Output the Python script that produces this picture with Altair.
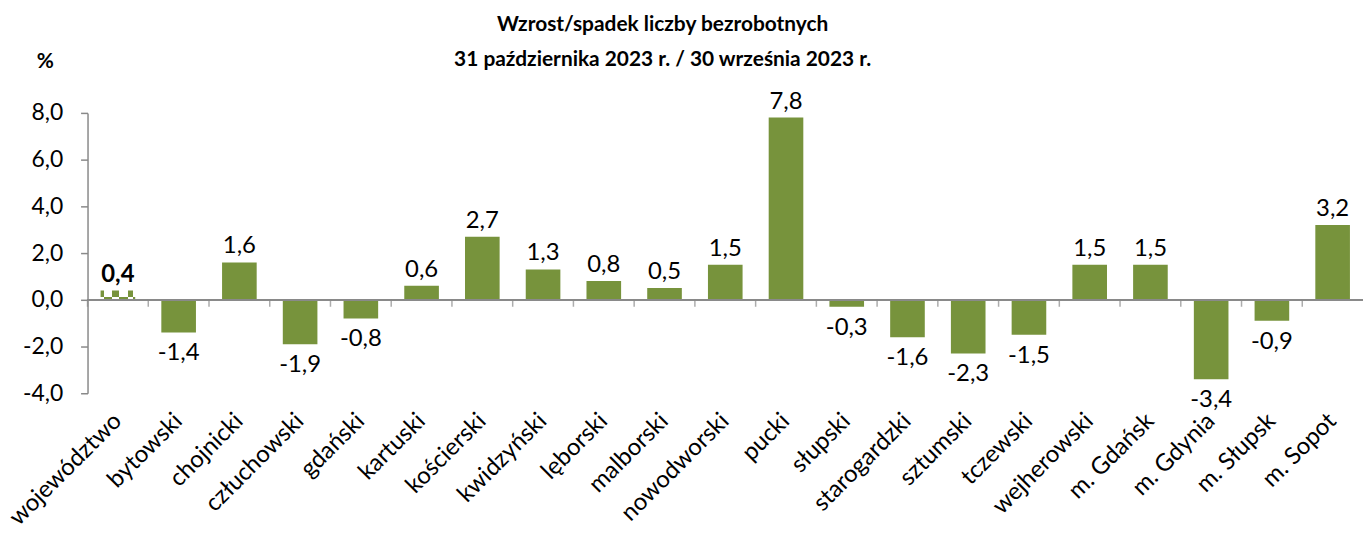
import altair as alt
import pandas as pd

categories = ["województwo", "bytowski", "chojnicki", "człuchowski", "gdański",
              "kartuski", "kościerski", "kwidzyński", "lęborski", "malborski",
              "nowodworski", "pucki", "słupski", "starogardzki", "sztumski",
              "tczewski", "wejherowski", "m. Gdańsk", "m. Gdynia", "m. Słupsk", "m. Sopot"]
values = [0.4, -1.4, 1.6, -1.9, -0.8, 0.6, 2.7, 1.3, 0.8, 0.5,
          1.5, 7.8, -0.3, -1.6, -2.3, -1.5, 1.5, 1.5, -3.4, -0.9, 3.2]
y_ticks = [-4, -2, 0, 2, 4, 6, 8]
title_lines = ["Wzrost/spadek liczby bezrobotnych",
               "31 października 2023 r. / 30 września 2023 r."]

GREEN = "#77933C"
GRAY = "#898989"
FONT = "Lato"

df = pd.DataFrame({"kat": categories, "val": values})
df["lab"] = [f"{v:.1f}".replace(".", ",") for v in values]
df["total"] = [c == "województwo" for c in categories]

v0 = values[0]
split = v0 * 0.3
chk = pd.DataFrame({"kat": [categories[0], categories[0]],
                    "lo": [0, split], "hi": [split, v0],
                    "row": ["bottom", "top"]})

xscale = alt.Scale(domain=categories, paddingInner=0.43, paddingOuter=0.215)
yscale = alt.Scale(domain=[-4, 8], nice=False)

x_enc = alt.X("kat:N", scale=xscale, sort=categories, title=None,
              axis=alt.Axis(labelAngle=-45, labelAlign="right", labelBaseline="middle",
                            labelFontSize=24, labelFont=FONT, labelColor="black",
                            ticks=False, domain=False, labelPadding=24, labelLimit=300))
y_enc = alt.Y("val:Q", scale=yscale, title="%",
              axis=alt.Axis(values=y_ticks, grid=False, domainColor=GRAY, domainWidth=1.5,
                            tickColor=GRAY, tickWidth=1.5, tickSize=7, labelPadding=18,
                            labelFontSize=23, labelFont=FONT, labelColor="black",
                            labelExpr="replace(replace(format(datum.value, '.1f'), '.', ','), '\u2212', '-')",
                            titleAngle=0, titleX=-43, titleY=-52, titleAlign="center",
                            titleBaseline="middle", titleFontSize=21, titleFont=FONT,
                            titleFontWeight="bold", titleColor="black"))

base = alt.Chart(df)

bars = base.mark_bar(color=GREEN).encode(x=x_enc, y=y_enc, y2=alt.datum(0)).transform_filter(
    "!datum.total")


def stripes(green_ranges):
    stops = []
    pos = 0.0
    for a, b in green_ranges:
        if a > pos:
            stops += [alt.GradientStop(color="white", offset=pos), alt.GradientStop(color="white", offset=a)]
        stops += [alt.GradientStop(color=GREEN, offset=a), alt.GradientStop(color=GREEN, offset=b)]
        pos = b
    if pos < 1:
        stops += [alt.GradientStop(color="white", offset=pos), alt.GradientStop(color="white", offset=1)]
    return alt.Gradient(gradient="linear", x1=0, x2=1, y1=0, y2=0, stops=stops)


top_fill = stripes([(0.0, 0.09), (0.33, 0.53), (0.78, 0.95)])
bot_fill = stripes([(0.09, 0.33), (0.53, 0.78), (0.95, 1.0)])

chk_base = alt.Chart(chk)
chk_top = chk_base.mark_bar(fill=top_fill).encode(
    x=alt.X("kat:N", scale=xscale, sort=categories),
    y=alt.Y("lo:Q", scale=yscale), y2="hi:Q").transform_filter("datum.row == 'top'")
chk_bot = chk_base.mark_bar(fill=bot_fill).encode(
    x=alt.X("kat:N", scale=xscale, sort=categories),
    y=alt.Y("lo:Q", scale=yscale), y2="hi:Q").transform_filter("datum.row == 'bottom'")

zero = alt.Chart(df).mark_rule(color=GRAY, strokeWidth=1.5).encode(y=alt.datum(0))

ticks = base.mark_tick(orient="vertical", color=GRAY, thickness=1.5, size=7,
                       yOffset=3.5, xOffset=-30.55).encode(
    x=alt.X("kat:N", scale=xscale, sort=categories), y=alt.datum(0))

lab_pos = base.mark_text(baseline="bottom", dy=-4, fontSize=24, font=FONT, color="black").encode(
    x=alt.X("kat:N", scale=xscale, sort=categories), y=alt.Y("val:Q", scale=yscale),
    text="lab:N").transform_filter("datum.val >= 0 && !datum.total")
lab_tot = base.mark_text(baseline="bottom", dy=-4, fontSize=24, font=FONT, color="black",
                         fontWeight="bold").encode(
    x=alt.X("kat:N", scale=xscale, sort=categories), y=alt.Y("val:Q", scale=yscale),
    text="lab:N").transform_filter("datum.total")
lab_neg = base.mark_text(baseline="top", dy=9, fontSize=24, font=FONT, color="black").encode(
    x=alt.X("kat:N", scale=xscale, sort=categories), y=alt.Y("val:Q", scale=yscale),
    text="lab:N").transform_filter("datum.val < 0")

chart = alt.layer(bars, chk_top, chk_bot, zero, ticks, lab_pos, lab_tot, lab_neg).properties(
    width=1283, height=282,
    padding={"left": 80, "top": 104, "right": 0, "bottom": 131},
    autosize="none",
    title=alt.TitleParams(text=title_lines, fontSize=21, font=FONT, fontWeight="bold",
                          anchor="middle", frame="group", dx=-63, offset=-20,
                          lineHeight=35, color="black")
).configure_view(stroke=None)

chart.save("out.html", embed_options={"renderer": "svg", "actions": False})
